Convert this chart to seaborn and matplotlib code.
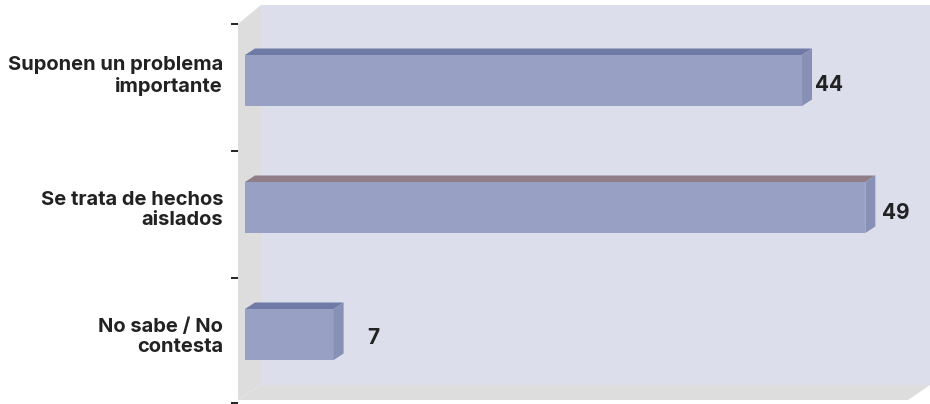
import matplotlib
matplotlib.use("Agg")
import matplotlib.pyplot as plt
from matplotlib.patches import Polygon
from matplotlib.transforms import Affine2D
import seaborn as sns
import pandas as pd

categories = ["Suponen un problema\nimportante", "Se trata de hechos\naislados", "No sabe / No\ncontesta"]
values = [44, 49, 7]

W, H = 930, 404
sns.set_theme(style="white")
plt.rcParams["font.family"] = ["Inter", "Liberation Sans", "DejaVu Sans"]
fig = plt.figure(figsize=(W / 100, H / 100), dpi=100)
ax = fig.add_axes([0, 0, 1, 1])

PX_PER_UNIT = 12.66
X0, Y0, STEP = 245, 80.5, 127.0
df = pd.DataFrame({"cat": categories, "val": values})
sns.barplot(data=df, y="cat", x="val", orient="h", order=categories, color="#98A1C3",
            saturation=1, width=51 / STEP, ax=ax, zorder=3, linewidth=0, edgecolor="none")
ax.set_xlim(-X0 / PX_PER_UNIT, (W - X0) / PX_PER_UNIT)
ax.set_ylim((H - Y0) / STEP, -Y0 / STEP)
ax.axis("off")

# pixel-space transform for the chart's 3D box
px = Affine2D().scale(1 / W, -1 / H).translate(0, 1) + fig.transFigure
def face(pts, color, z=1):
    ax.add_patch(Polygon(pts, closed=True, facecolor=color, edgecolor="none", transform=px, zorder=z, clip_on=False))

face([(261, 5), (930, 5), (930, 385), (261, 385)], "#DCDEEB")
face([(238, 24), (261, 5), (261, 385), (238, 400)], "#DDDDDD")
face([(238, 400), (261, 385), (930, 385), (908, 400)], "#DDDDDD")

# bar depth faces, derived from each seaborn bar
DX, DY = 10 / PX_PER_UNIT, 6.5 / STEP
top_colors = ["#6F7BA6", "#8F7D88", "#6F7BA6"]
for bar, v, tc in zip(ax.patches[:3], values, top_colors):
    y0, y1 = bar.get_y(), bar.get_y() + bar.get_height()
    ax.add_patch(Polygon([(0, y0), (v, y0), (v + DX, y0 - DY), (DX, y0 - DY)],
                         facecolor=tc, edgecolor="none", zorder=3))
    ax.add_patch(Polygon([(v, y0), (v + DX, y0 - DY), (v + DX, y1 - DY), (v, y1)],
                         facecolor="#8791B5", edgecolor="none", zorder=3))

# value labels
val_offset = [13, 17, 34]
val_shift = [-3.5, -4.5, -2]
for i, (v, off, dy) in enumerate(zip(values, val_offset, val_shift)):
    ax.annotate(str(v), (v, i), xytext=(off * 0.72, dy * 0.72 - 1), textcoords="offset points",
                ha="left", va="center", fontsize=15, fontweight="bold", color="#222222", zorder=5)

# category labels
label_y = [76, 210, 337]
for c, ly in zip(categories, label_y):
    ax.text(223, ly, c, transform=px, ha="right", va="center", fontsize=14.5, fontweight="bold",
            color="#222222", linespacing=1.2)

# tick marks
for ty in [24, 151, 278, 403]:
    ax.plot([231, 238], [ty, ty], color="#111111", lw=1.3, transform=px, zorder=4, solid_capstyle="butt", clip_on=False)

fig.savefig("out.png", dpi=100)
